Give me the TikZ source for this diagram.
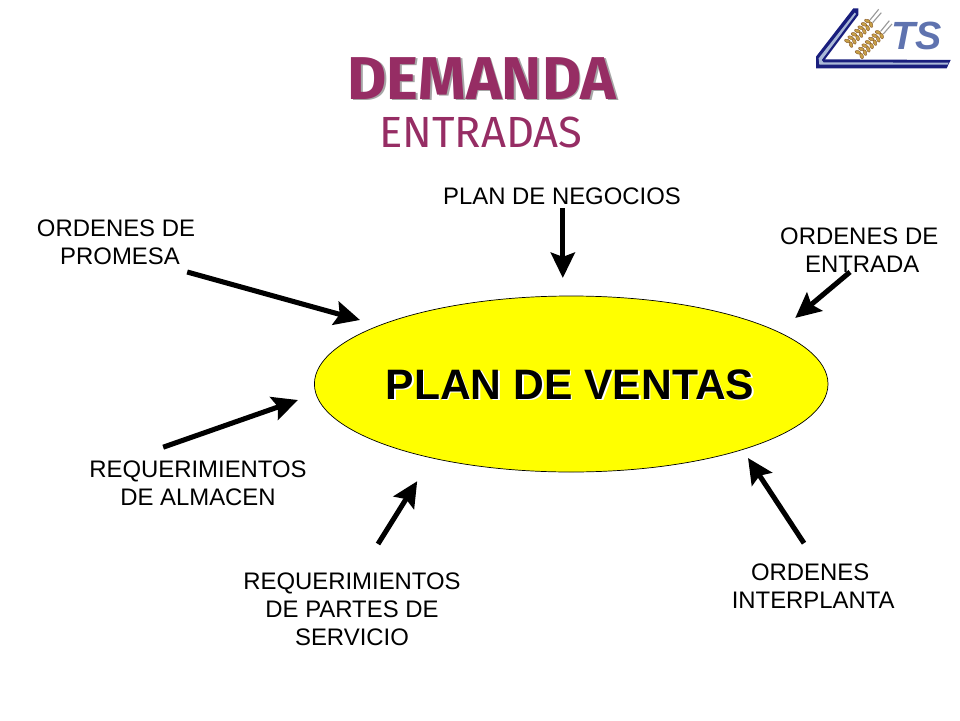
\documentclass[tikz,border=0pt]{standalone}
\usepackage{fontspec}
\setmainfont{Liberation Sans}
\newfontfamily\titlefont{Fira Sans}
\usetikzlibrary{arrows.meta}
\definecolor{titlecol}{RGB}{150,45,100}
\definecolor{ventascol}{RGB}{255,255,0}
\definecolor{logonavy}{RGB}{25,30,125}
\definecolor{logosteel}{RGB}{170,185,215}
\definecolor{logotext}{RGB}{95,115,175}
\definecolor{logowheat}{RGB}{200,160,70}
\tikzset{
	inlabel/.style={align=center,font=\fontsize{17}{19.9}\selectfont},
	inarrow/.style={line width=3.6pt,-{Stealth[length=18pt,width=17pt,inset=3pt]}},
	grain/.style={fill=logowheat,draw=brown!70!black,line width=0.3pt}
}
\begin{document}
\begin{tikzpicture}
	\useasboundingbox (0,0) rectangle (24,18);
	%The title
	\node [text=black!35,font=\titlefont\bfseries\fontsize{43}{45}\selectfont] (demandashadow) at (12.09,16.0) {DEMANDA};
	\node [text=titlecol,font=\titlefont\bfseries\fontsize{43}{45}\selectfont] (demanda) at (12.05,16.04) {DEMANDA};
	\node [text=titlecol,font=\titlefont\fontsize{31}{33}\selectfont] (entradas) at (12.02,14.7) {ENTRADAS};
	%The ellipse in the middle
	\draw [fill=ventascol,line width=0.5pt] (14.28,8.4) ellipse (6.42cm and 2.2cm);
	\node [text=white,font=\bfseries\fontsize{30.3}{32}\selectfont] (ventasshadow) at (14.29,8.35) {PLAN DE VENTAS};
	\node [font=\bfseries\fontsize{30.3}{32}\selectfont] (ventas) at (14.25,8.39) {PLAN DE VENTAS};
	%The labels
	\node [inlabel] (negocios) at (14.05,13.1) {PLAN DE NEGOCIOS};
	\node [inlabel] (promesa) at (2.9,11.95) {ORDENES DE\\\hspace*{0.2cm}PROMESA};
	\node [inlabel] (entrada) at (21.48,11.75) {ORDENES DE\\\hspace*{0.15cm}ENTRADA};
	\node [inlabel] (almacen) at (4.95,5.92) {REQUERIMIENTOS\\DE ALMACEN};
	\node [inlabel] (servicio) at (8.8,2.78) {REQUERIMIENTOS\\DE PARTES DE\\SERVICIO};
	\node [inlabel] (interplanta) at (20.33,3.34) {ORDENES\hspace*{0.15cm}\\INTERPLANTA};
	%Free ends of the arrows
	\coordinate (promesaA) at (4.68,11.2);
	\coordinate (promesaB) at (9.0,10.0);
	\coordinate (negociosA) at (14.07,12.8);
	\coordinate (negociosB) at (14.07,11.05);
	\coordinate (entradaA) at (21.25,11.2);
	\coordinate (entradaB) at (19.88,10.05);
	\coordinate (almacenA) at (4.08,6.82);
	\coordinate (almacenB) at (7.45,8.0);
	\coordinate (servicioA) at (9.45,4.4);
	\coordinate (servicioB) at (10.43,5.97);
	\coordinate (interplantaA) at (20.1,4.42);
	\coordinate (interplantaB) at (18.7,6.55);
	%The arrows
	\draw [inarrow] (promesaA) -- (promesaB);
	\draw [inarrow] (negociosA) -- (negociosB);
	\draw [inarrow] (entradaA) -- (entradaB);
	\draw [inarrow] (almacenA) -- (almacenB);
	\draw [inarrow] (servicioA) -- (servicioB);
	\draw [inarrow] (interplantaA) -- (interplantaB);
	%The logo
	\begin{scope}[shift={(19.5,18)},x=0.00833cm,y=-0.00833cm]
		%Chevron
		\fill [logonavy] (220,25) -- (235,25) -- (235,45) -- (135,178) -- (512,180) -- (500,205) -- (108,205) -- (108,170) -- cycle;
		\fill [logosteel] (224,38) -- (228,42) -- (125,180) -- (130,187) -- (506,188) -- (503,194) -- (118,194) -- (116,175) -- cycle;
		%Two ears of wheat
		\foreach \ex/\ey in {208/128,240/162} {
			\draw [black!40,line width=0.8pt] (\ex+62,\ey-68) -- (\ex+88,\ey-100);
			\draw [black!40,line width=0.8pt] (\ex+70,\ey-60) -- (\ex+96,\ey-90);
			\foreach \t in {0,10,...,60} {
				\fill [grain,rotate around={-20:(\ex+\t-6,\ey-\t-5)}] (\ex+\t-6,\ey-\t-5) ellipse (9 and 5);
				\fill [grain,rotate around={-70:(\ex+\t+5,\ey-\t+6)}] (\ex+\t+5,\ey-\t+6) ellipse (9 and 5);
			}
		}
		%Letters
		\node [text=logotext,font=\bfseries\itshape\fontsize{28}{30}\selectfont] (logots) at (410,108) {TS};
	\end{scope}
\end{tikzpicture}
\end{document}
